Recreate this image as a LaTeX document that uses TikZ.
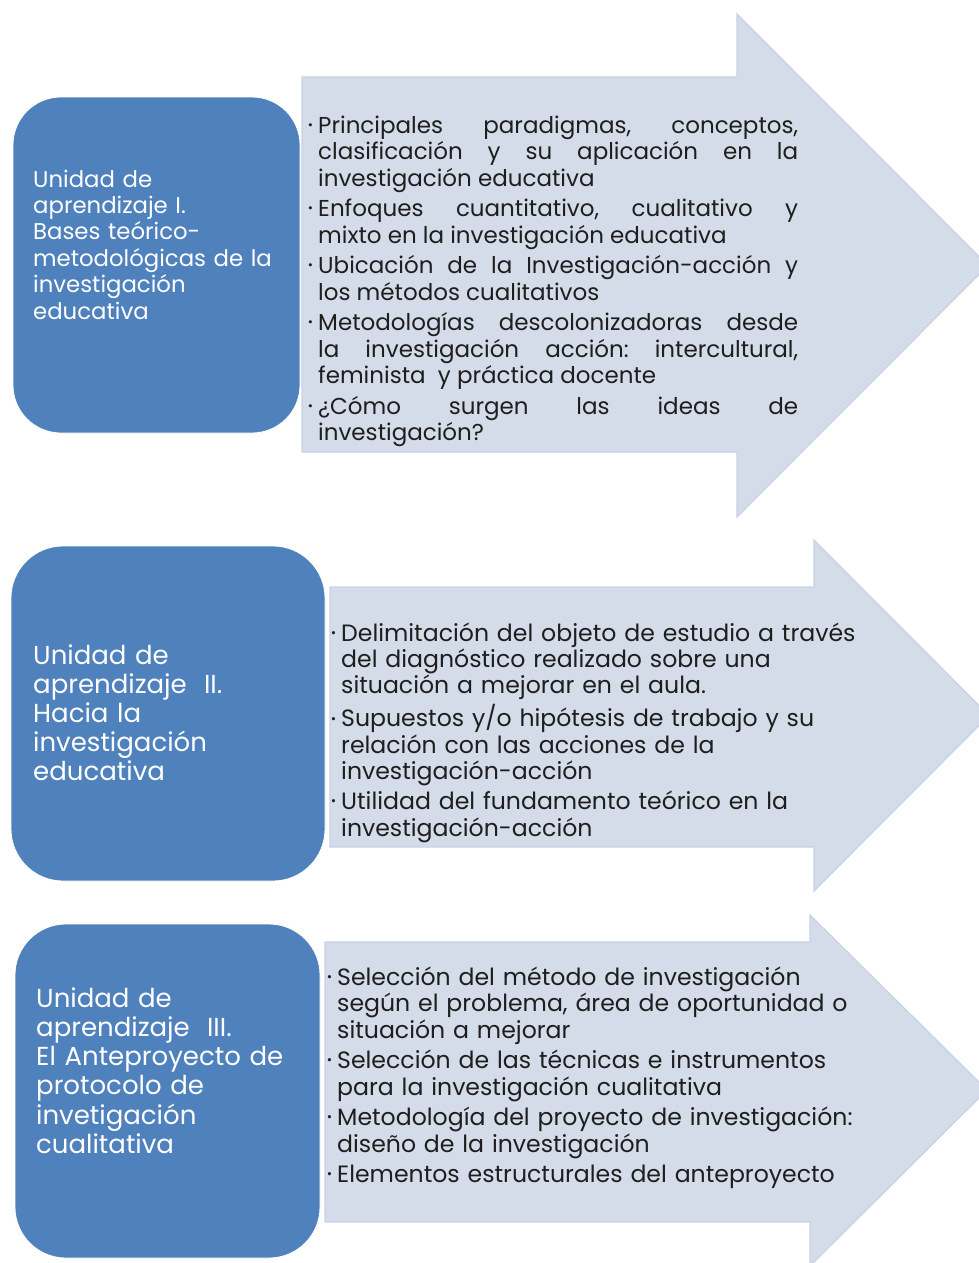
\documentclass[tikz,border=0pt]{standalone}
\usepackage{fontspec}
\setmainfont{Poppins}
\usetikzlibrary{positioning}
\definecolor{cajaazul}{HTML}{4F81BD}
\definecolor{flechafondo}{HTML}{D4DBE9}
\definecolor{flechaborde}{HTML}{C9D2E4}
\definecolor{textonegro}{HTML}{1E1E1E}
\hyphenpenalty=10000
\exhyphenpenalty=10000
\frenchspacing
\newcommand {\flecha}[8] {\filldraw[flechacuerpo] (#1,#2) -- (#4,#2) -- (#4,#5) -- (#7,#8)
                          -- (#4,#6) -- (#4,#3) -- (#1,#3) -- cycle;}
\newcommand {\vineta} {\noindent\llap{\raisebox{0.3ex}{\scalebox{0.55}{\textbullet}}\hspace{5pt}}}
\newcommand {\pto} {\par\vspace{4pt}\vineta}

\begin{document}
\begin{tikzpicture}[x=1pt, y=-1pt,
    flechacuerpo/.style={fill=flechafondo, draw=flechaborde, line width=1.2pt, line join=miter},
    caja/.style={fill=cajaazul, draw=white, line width=0.8pt},
    titulo/.style={anchor=base west, inner sep=0pt, text=white, align=left},
    lista/.style={anchor=base west, inner sep=0pt, text=textonegro}]
        \useasboundingbox (0,0) rectangle (979,1263);
        \clip (0,0) rectangle (979,1263);
        % flechas
        \flecha{302}{77}{452}{737}{14}{517}{988}{265.5}
        \flecha{330}{587}{847}{814}{540}{891}{989}{715.5}
        \flecha{325}{942}{1222}{810}{915}{1266}{987}{1090}
        % cajas
        \draw[caja, rounded corners=48pt] (13,97) rectangle (300,433);
        \draw[caja, rounded corners=52pt] (11,546) rectangle (325,881);
        \draw[caja, rounded corners=51pt] (15,924) rectangle (320,1258);
        % unidad I
        \node[titulo, text width=280pt, font=\fontsize{22.8}{26.4}\selectfont] (u1) at (33,187)
            {Unidad de\\aprendizaje I.\\Bases teórico-\\metodológicas de la\\investigación\\educativa};
        \node[lista, text width=480pt, align=justify, font=\fontsize{23}{26.5}\selectfont] (l1) at (318,133)
            {\vineta Principales paradigmas, conceptos,\linebreak clasificación y su aplicación en la\linebreak investigación educativa
             \pto Enfoques cuantitativo, cualitativo y\linebreak mixto en la investigación educativa
             \pto Ubicación de la Investigación-acción y\linebreak los métodos cualitativos
             \pto Metodologías descolonizadoras desde\linebreak la investigación acción: intercultural,\linebreak feminista\ \ y práctica docente
             \pto ¿Cómo surgen las ideas de\linebreak investigación?\par};
        % unidad II
        \node[titulo, text width=300pt, font=\fontsize{26}{29}\selectfont] (u2) at (33,664)
            {Unidad de\\aprendizaje\ \ II.\\Hacia la\\investigación\\educativa};
        \node[lista, text width=600pt, align=left, font=\fontsize{23.6}{26.3}\selectfont] (l2) at (341,641)
            {\vineta Delimitación del objeto de estudio a través\newline del diagnóstico realizado sobre una\newline situación a mejorar en el aula.
             \pto Supuestos y/o hipótesis de trabajo y su\newline relación con las acciones de la\newline investigación-acción
             \pto Utilidad del fundamento teórico en la\newline investigación-acción\par};
        % unidad III
        \node[titulo, text width=300pt, font=\fontsize{26}{29.3}\selectfont] (u3) at (36,1007)
            {Unidad de\\aprendizaje\ \ III.\\El Anteproyecto de\\protocolo de\\invetigación\\cualitativa};
        \node[lista, text width=600pt, align=left, font=\fontsize{23.6}{26.5}\selectfont] (l3) at (337,985)
            {\vineta Selección del método de investigación\newline según el problema, área de oportunidad o\newline situación a mejorar
             \pto Selección de las técnicas e instrumentos\newline para la investigación cualitativa
             \pto Metodología del proyecto de investigación:\newline diseño de la investigación
             \pto Elementos estructurales del anteproyecto\par};
\end{tikzpicture}
\end{document}
